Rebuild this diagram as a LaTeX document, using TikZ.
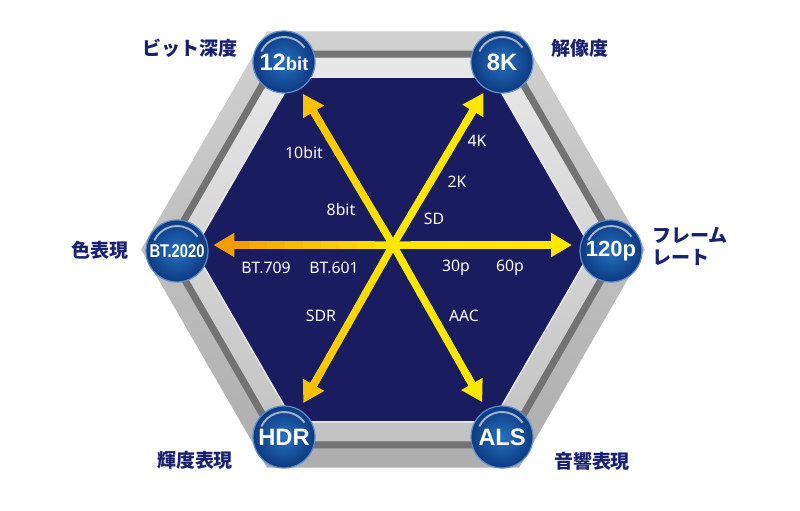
\documentclass[tikz,border=0pt]{standalone}
\usepackage{fontspec}
\setmainfont{Noto Sans}
\newfontfamily\jpfont{Noto Sans CJK JP}
\newfontfamily\ballfont{Liberation Sans}
\newfontfamily\narrowfont[FakeStretch=0.8]{Liberation Sans}
\usetikzlibrary{arrows.meta,calc,shapes.geometric}
\definecolor{navy}{RGB}{26,28,96}
\definecolor{labelblue}{RGB}{24,32,112}
\definecolor{rayyellow}{RGB}{255,230,0}
\definecolor{rayorange}{RGB}{243,152,0}
\definecolor{ballin}{RGB}{40,112,192}
\definecolor{ballout}{RGB}{12,58,128}
\definecolor{ballrim}{RGB}{92,140,204}

\begin{document}
\begin{tikzpicture}[x=0.02cm,y=-0.02cm,
  hex/.style={regular polygon,regular polygon sides=6,inner sep=0pt,outer sep=0pt},
  ball/.style={circle,minimum size=1.24cm,inner sep=0pt,inner color=ballin,outer color=ballout,
    draw=ballrim,line width=0.7pt,text=white,font=\ballfont\bfseries\fontsize{13.5}{14}\selectfont,
    path picture={\draw[white,opacity=0.6,line width=1.1pt]
      ($(path picture bounding box.center)+(155:0.5cm)$) arc[start angle=155,end angle=35,radius=0.5cm];}},
  ray/.style={line width=0.15cm},
  val/.style={text=white,font=\fontsize{9}{10}\selectfont,inner sep=1pt},
  aspect/.style={text=labelblue,font=\jpfont\bfseries\fontsize{10.8}{12.5}\selectfont,align=left,inner sep=0pt}
]
  \useasboundingbox (0,0) rectangle (800,510);

  % metal frame
  \node[hex,minimum size=10.08cm,top color=black!18,bottom color=black!32] (frameOuter) at (393,249.5) {};
  \node[hex,minimum size=8.87cm,top color=black!9,bottom color=black!24] (frameInner) at (393,249.5) {};
  \node[hex,minimum size=9.03cm,draw=black!55,line width=0.14cm] (frameGroove) at (393,249.5) {};
  \node[hex,minimum size=7.96cm,fill=navy,draw=black!8,line width=0.8pt] (field) at (393,249.5) {};

  \node[ball] (b12bit) at (284,62) {12\fontsize{10.5}{12}\selectfont bit};
  \node[ball] (b8K) at (502,62) {8K};
  \node[ball,font=\ballfont\bfseries\fontsize{12.5}{14}\selectfont] (b120p) at (611,251) {120p};
  \node[ball] (bALS) at (502,437) {ALS};
  \node[ball] (bHDR) at (284,437) {HDR};
  \node[ball,font=\narrowfont\bfseries\fontsize{10.5}{12}\selectfont] (bBT) at (177,251) {BT.2020};

  \coordinate (ctr) at (393,245);
  \coordinate (t12bit) at ($(b12bit.center)!0.74cm!(ctr)$);
  \coordinate (t8K) at ($(b8K.center)!0.72cm!(ctr)$);
  \coordinate (t120p) at ($(b120p.center |- ctr)!0.78cm!(ctr)$);
  \coordinate (tALS) at ($(bALS.center)!0.8cm!(ctr)$);
  \coordinate (tHDR) at ($(bHDR.center)!0.78cm!(ctr)$);
  \coordinate (tBT) at ($(bBT.center |- ctr)!0.73cm!(ctr)$);

  \foreach \tip/\lean in {t8K/0,t120p/0,tALS/0,t12bit/0.5,tHDR/0.5,tBT/1}{
    \foreach \i in {1,...,9}{
      \pgfmathsetmacro{\ta}{(\i-1)/10}
      \pgfmathsetmacro{\tb}{\i/10+0.012}
      \pgfmathtruncatemacro{\mix}{100-\lean*(\i-0.5)*10}
      \draw[ray,rayyellow!\mix!rayorange] ($(ctr)!\ta!(\tip)$) -- ($(ctr)!\tb!(\tip)$);
    }
    \pgfmathtruncatemacro{\mix}{100-\lean*95}
    \draw[ray,rayyellow!\mix!rayorange,-{Triangle[width=0.46cm,length=0.42cm]}]
      ($(ctr)!0.8!(\tip)$) -- (\tip);
  }

  \node[val] (v10bit) at (304,153) {10bit};
  \node[val] (v8bit) at (341,210) {8bit};
  \node[val] (v4K) at (477,141) {4K};
  \node[val] (v2K) at (457,182) {2K};
  \node[val] (vSD) at (434,219) {SD};
  \node[val] (v709) at (266,268) {BT.709};
  \node[val] (v601) at (334,268) {BT.601};
  \node[val] (v30p) at (456,268) {30p};
  \node[val] (v60p) at (510,268) {60p};
  \node[val] (vSDR) at (321,316) {SDR};
  \node[val] (vAAC) at (464,316) {AAC};

  \node[aspect] (depth) at (190,48) {ビット深度};
  \node[aspect] (resolution) at (580,48) {解像度};
  \node[aspect,anchor=west] (framerate) at (652,246) {フレーム\\レート};
  \node[aspect] (gamut) at (100,250) {色表現};
  \node[aspect] (luminance) at (195,460) {輝度表現};
  \node[aspect] (audio) at (592,461) {音響表現};
\end{tikzpicture}
\end{document}
